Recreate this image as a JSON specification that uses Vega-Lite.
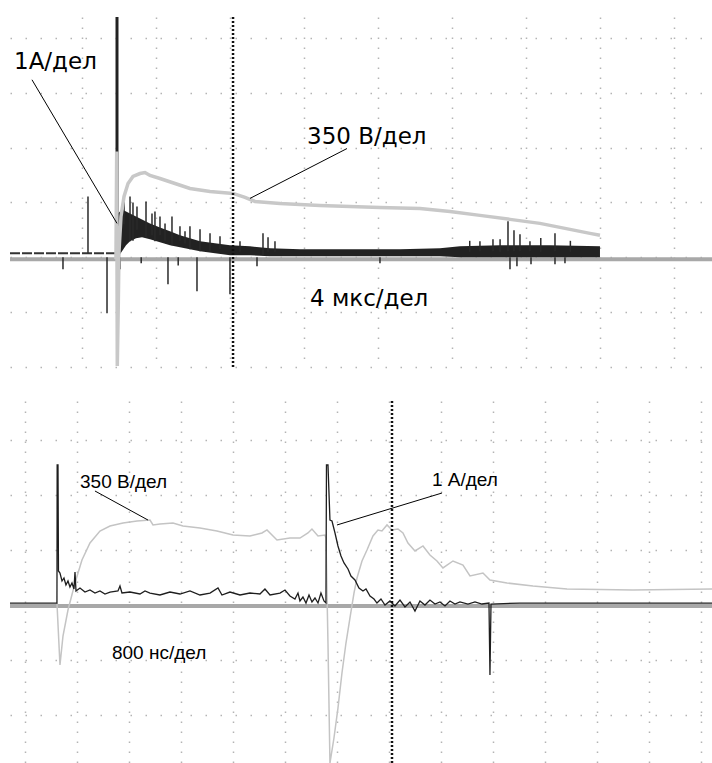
{
  "$schema": "https://vega.github.io/schema/vega-lite/v6.json",
  "background": "white",
  "padding": {"left": 6, "top": 15, "right": 0, "bottom": 0},
  "spacing": 25,
  "config": {
    "view": {"stroke": null},
    "axis": {"labels": false, "ticks": false, "domain": false, "grid": true, "gridColor": "#b4b4b4", "gridWidth": 1.5, "minExtent": 0, "maxExtent": 0, "title": null},
    "axisX": {"gridDash": [1.5, 8.5]},
    "axisY": {"gridDash": [1.5, 13.5]}
  },
  "datasets": {
    "topVolt": [
      {"t": 1.459, "v": -0.036}, {"t": 1.469, "v": 1.927}, {"t": 1.477, "v": -1.982}, {"t": 1.491, "v": -0.8},
      {"t": 1.5, "v": 0.109}, {"t": 1.527, "v": 0.745}, {"t": 1.568, "v": 1.109}, {"t": 1.622, "v": 1.345},
      {"t": 1.689, "v": 1.473}, {"t": 1.784, "v": 1.527}, {"t": 1.851, "v": 1.545}, {"t": 1.919, "v": 1.491},
      {"t": 2.054, "v": 1.436}, {"t": 2.257, "v": 1.345}, {"t": 2.459, "v": 1.255}, {"t": 2.73, "v": 1.2},
      {"t": 3.041, "v": 1.164}, {"t": 3.203, "v": 1.091}, {"t": 3.338, "v": 1.018}, {"t": 3.676, "v": 0.982},
      {"t": 4.216, "v": 0.945}, {"t": 4.622, "v": 0.927}, {"t": 5.027, "v": 0.909}, {"t": 5.568, "v": 0.891},
      {"t": 5.973, "v": 0.836}, {"t": 6.378, "v": 0.764}, {"t": 6.784, "v": 0.691}, {"t": 7.189, "v": 0.618},
      {"t": 7.595, "v": 0.509}, {"t": 7.865, "v": 0.436}, {"t": 8.0, "v": 0.4}
    ],
    "topBand": [
      {"t": 1.486, "hi": 0.8, "lo": 0.0}, {"t": 1.541, "hi": 0.873, "lo": 0.109}, {"t": 1.595, "hi": 0.836, "lo": 0.218},
      {"t": 1.649, "hi": 0.8, "lo": 0.291}, {"t": 1.73, "hi": 0.745, "lo": 0.345}, {"t": 1.811, "hi": 0.691, "lo": 0.364},
      {"t": 1.919, "hi": 0.618, "lo": 0.327}, {"t": 2.054, "hi": 0.545, "lo": 0.273}, {"t": 2.189, "hi": 0.473, "lo": 0.218},
      {"t": 2.324, "hi": 0.4, "lo": 0.182}, {"t": 2.459, "hi": 0.345, "lo": 0.145}, {"t": 2.595, "hi": 0.291, "lo": 0.109},
      {"t": 2.797, "hi": 0.255, "lo": 0.073}, {"t": 3.0, "hi": 0.218, "lo": 0.036}, {"t": 3.27, "hi": 0.2, "lo": 0.036},
      {"t": 3.541, "hi": 0.164, "lo": 0.018}, {"t": 3.946, "hi": 0.145, "lo": 0.018}, {"t": 4.622, "hi": 0.145, "lo": 0.018},
      {"t": 5.297, "hi": 0.145, "lo": 0.018}, {"t": 5.838, "hi": 0.164, "lo": 0.018}, {"t": 6.108, "hi": 0.2, "lo": 0.0},
      {"t": 6.649, "hi": 0.218, "lo": 0.0}, {"t": 7.324, "hi": 0.218, "lo": 0.0}, {"t": 8.0, "hi": 0.2, "lo": 0.0}
    ],
    "topSpikes": [
      {"t": 1.081, "v0": 0.073, "v1": 1.109}, {"t": 1.649, "v0": 0.291, "v1": 1.109}, {"t": 1.689, "v0": 0.3, "v1": 1.0},
      {"t": 1.865, "v0": 0.364, "v1": 1.018}, {"t": 1.986, "v0": 0.291, "v1": 0.836}, {"t": 2.216, "v0": 0.218, "v1": 0.745},
      {"t": 2.459, "v0": 0.145, "v1": 0.564}, {"t": 2.595, "v0": 0.109, "v1": 0.509}, {"t": 2.73, "v0": 0.109, "v1": 0.436},
      {"t": 3.446, "v0": 0.036, "v1": 0.436}, {"t": 6.378, "v0": 0.109, "v1": 0.291}, {"t": 6.554, "v0": 0.109, "v1": 0.327},
      {"t": 6.757, "v0": 0.109, "v1": 0.655}, {"t": 6.838, "v0": 0.109, "v1": 0.491}, {"t": 6.919, "v0": 0.109, "v1": 0.418},
      {"t": 7.054, "v0": 0.109, "v1": 0.291}, {"t": 7.392, "v0": 0.109, "v1": 0.436},
      {"t": 1.568, "v0": 0.6, "v1": 1.018}, {"t": 1.743, "v0": 0.5, "v1": 0.927}, {"t": 1.946, "v0": 0.4, "v1": 0.8},
      {"t": 2.054, "v0": 0.4, "v1": 0.745}, {"t": 2.122, "v0": 0.3, "v1": 0.618}, {"t": 2.324, "v0": 0.3, "v1": 0.564},
      {"t": 2.392, "v0": 0.25, "v1": 0.473}, {"t": 2.865, "v0": 0.15, "v1": 0.382}, {"t": 3.135, "v0": 0.1, "v1": 0.291},
      {"t": 3.514, "v0": 0.1, "v1": 0.364}, {"t": 3.608, "v0": 0.1, "v1": 0.291}, {"t": 6.24, "v0": 0.1, "v1": 0.3},
      {"t": 6.65, "v0": 0.1, "v1": 0.33}, {"t": 7.2, "v0": 0.1, "v1": 0.35}, {"t": 7.6, "v0": 0.1, "v1": 0.3},
      {"t": 0.743, "v0": 0, "v1": -0.218}, {"t": 1.338, "v0": 0, "v1": -1.018}, {"t": 1.514, "v0": 0, "v1": -0.218},
      {"t": 2.162, "v0": 0, "v1": -0.491}, {"t": 2.554, "v0": 0, "v1": -0.618}, {"t": 3.0, "v0": 0, "v1": -0.673},
      {"t": 3.365, "v0": 0, "v1": -0.164}, {"t": 6.784, "v0": 0, "v1": -0.218}, {"t": 6.878, "v0": 0, "v1": -0.164},
      {"t": 7.068, "v0": 0, "v1": -0.127}, {"t": 7.392, "v0": 0, "v1": -0.127}, {"t": 7.527, "v0": 0, "v1": -0.109},
      {"t": 5.027, "v0": 0, "v1": -0.109}, {"t": 1.8, "v0": 0, "v1": -0.11}, {"t": 2.3, "v0": 0, "v1": -0.15}
    ],
    "topPointers": [
      {"t0": 0.324, "v0": 3.236, "t1": 1.473, "v1": 0.618},
      {"t0": 4.581, "v0": 1.982, "t1": 3.27, "v1": 1.073}
    ],
    "topLabels": [
      {"t": 0.081, "v": 3.436, "label": "1A/дел"},
      {"t": 4.041, "v": 2.073, "label": "350 В/дел"},
      {"t": 4.081, "v": -0.891, "label": "4 мкс/дел"}
    ],
    "botCurrent": [
      {"t": -0.288, "v": 0.036}, {"t": 0.577, "v": 0.036}, {"t": 0.615, "v": 0.036}, {"t": 0.619, "v": 2.545},
      {"t": 0.635, "v": 2.545}, {"t": 0.644, "v": 0.618}, {"t": 0.673, "v": 0.582}, {"t": 0.712, "v": 0.436},
      {"t": 0.75, "v": 0.491}, {"t": 0.788, "v": 0.364}, {"t": 0.827, "v": 0.436}, {"t": 0.865, "v": 0.327},
      {"t": 0.904, "v": 0.4}, {"t": 0.942, "v": 0.291}, {"t": 0.962, "v": 0.6}, {"t": 0.981, "v": 0.255},
      {"t": 1.058, "v": 0.309}, {"t": 1.154, "v": 0.236}, {"t": 1.25, "v": 0.273}, {"t": 1.346, "v": 0.218},
      {"t": 1.442, "v": 0.255}, {"t": 1.538, "v": 0.2}, {"t": 1.635, "v": 0.236}, {"t": 1.788, "v": 0.255},
      {"t": 1.827, "v": 0.345}, {"t": 1.865, "v": 0.218}, {"t": 2.019, "v": 0.236}, {"t": 2.212, "v": 0.2},
      {"t": 2.308, "v": 0.255}, {"t": 2.404, "v": 0.218}, {"t": 2.596, "v": 0.182}, {"t": 2.788, "v": 0.236},
      {"t": 2.981, "v": 0.2}, {"t": 3.173, "v": 0.255}, {"t": 3.365, "v": 0.182}, {"t": 3.558, "v": 0.218},
      {"t": 3.712, "v": 0.309}, {"t": 3.788, "v": 0.182}, {"t": 3.942, "v": 0.236}, {"t": 4.135, "v": 0.182},
      {"t": 4.327, "v": 0.218}, {"t": 4.519, "v": 0.2}, {"t": 4.615, "v": 0.291}, {"t": 4.712, "v": 0.182},
      {"t": 4.904, "v": 0.218}, {"t": 5.0, "v": 0.273}, {"t": 5.096, "v": 0.164}, {"t": 5.192, "v": 0.109},
      {"t": 5.25, "v": 0.218}, {"t": 5.288, "v": 0.073}, {"t": 5.346, "v": 0.145}, {"t": 5.404, "v": 0.036},
      {"t": 5.462, "v": 0.182}, {"t": 5.519, "v": 0.055}, {"t": 5.577, "v": 0.127}, {"t": 5.635, "v": 0.036},
      {"t": 5.692, "v": 0.218}, {"t": 5.75, "v": 0.073}, {"t": 5.788, "v": 0.036}, {"t": 5.798, "v": 2.545},
      {"t": 5.827, "v": 2.545}, {"t": 5.865, "v": 1.545}, {"t": 5.904, "v": 1.527}, {"t": 5.962, "v": 1.309},
      {"t": 6.019, "v": 1.073}, {"t": 6.077, "v": 0.891}, {"t": 6.135, "v": 0.764}, {"t": 6.212, "v": 0.655},
      {"t": 6.269, "v": 0.527}, {"t": 6.346, "v": 0.455}, {"t": 6.423, "v": 0.309}, {"t": 6.5, "v": 0.255},
      {"t": 6.558, "v": 0.291}, {"t": 6.635, "v": 0.164}, {"t": 6.712, "v": 0.109}, {"t": 6.769, "v": 0.036},
      {"t": 6.846, "v": 0.109}, {"t": 6.923, "v": 0.0}, {"t": 7.019, "v": 0.073}, {"t": 7.115, "v": -0.018},
      {"t": 7.212, "v": 0.091}, {"t": 7.308, "v": -0.036}, {"t": 7.404, "v": 0.055}, {"t": 7.5, "v": -0.109},
      {"t": 7.596, "v": 0.073}, {"t": 7.692, "v": 0.0}, {"t": 7.788, "v": 0.091}, {"t": 7.885, "v": 0.018},
      {"t": 7.981, "v": 0.055}, {"t": 8.077, "v": -0.018}, {"t": 8.173, "v": 0.073}, {"t": 8.269, "v": 0.018},
      {"t": 8.365, "v": 0.055}, {"t": 8.519, "v": 0.018}, {"t": 8.654, "v": 0.055}, {"t": 8.788, "v": 0.018},
      {"t": 8.923, "v": 0.036}, {"t": 8.942, "v": -1.273}, {"t": 8.962, "v": 0.018}, {"t": 9.519, "v": 0.036},
      {"t": 13.212, "v": 0.036}
    ],
    "botVolt": [
      {"t": 0.615, "v": 0.036}, {"t": 0.673, "v": -1.091}, {"t": 0.731, "v": -0.564}, {"t": 0.827, "v": -0.091},
      {"t": 0.962, "v": 0.4}, {"t": 1.096, "v": 0.818}, {"t": 1.25, "v": 1.127}, {"t": 1.442, "v": 1.345},
      {"t": 1.635, "v": 1.436}, {"t": 1.885, "v": 1.491}, {"t": 2.154, "v": 1.527}, {"t": 2.404, "v": 1.545},
      {"t": 2.462, "v": 1.455}, {"t": 2.596, "v": 1.473}, {"t": 2.846, "v": 1.491}, {"t": 3.038, "v": 1.436},
      {"t": 3.365, "v": 1.4}, {"t": 3.692, "v": 1.345}, {"t": 4.0, "v": 1.273}, {"t": 4.327, "v": 1.255},
      {"t": 4.558, "v": 1.309}, {"t": 4.654, "v": 1.364}, {"t": 4.846, "v": 1.182}, {"t": 5.096, "v": 1.218},
      {"t": 5.288, "v": 1.218}, {"t": 5.442, "v": 1.309}, {"t": 5.519, "v": 1.382}, {"t": 5.635, "v": 1.255},
      {"t": 5.769, "v": 1.273}, {"t": 5.788, "v": 1.218}, {"t": 5.827, "v": -0.691}, {"t": 5.865, "v": -2.873},
      {"t": 5.942, "v": -2.418}, {"t": 6.019, "v": -1.873}, {"t": 6.096, "v": -1.236}, {"t": 6.173, "v": -0.691},
      {"t": 6.25, "v": -0.236}, {"t": 6.327, "v": 0.218}, {"t": 6.385, "v": 0.491}, {"t": 6.481, "v": 0.8},
      {"t": 6.577, "v": 1.0}, {"t": 6.692, "v": 1.255}, {"t": 6.788, "v": 1.364}, {"t": 6.865, "v": 1.345},
      {"t": 6.962, "v": 1.455}, {"t": 7.058, "v": 1.364}, {"t": 7.173, "v": 1.382}, {"t": 7.269, "v": 1.309},
      {"t": 7.365, "v": 1.127}, {"t": 7.5, "v": 0.982}, {"t": 7.654, "v": 1.073}, {"t": 7.788, "v": 0.909},
      {"t": 7.923, "v": 0.8}, {"t": 8.038, "v": 0.673}, {"t": 8.231, "v": 0.8}, {"t": 8.423, "v": 0.727},
      {"t": 8.558, "v": 0.527}, {"t": 8.808, "v": 0.582}, {"t": 8.942, "v": 0.455}, {"t": 9.269, "v": 0.4},
      {"t": 9.769, "v": 0.345}, {"t": 10.423, "v": 0.291}, {"t": 11.692, "v": 0.273}, {"t": 13.212, "v": 0.291}
    ],
    "botPointers": [
      {"t0": 1.346, "v0": 2.073, "t1": 2.365, "v1": 1.545},
      {"t0": 8.019, "v0": 2.036, "t1": 6.0, "v1": 1.455}
    ],
    "botLabels": [
      {"t": 1.058, "v": 2.127, "label": "350 В/дел"},
      {"t": 7.827, "v": 2.164, "label": "1 А/дел"},
      {"t": 1.673, "v": -0.982, "label": "800 нс/дел"}
    ]
  },
  "vconcat": [
    {
      "width": 702,
      "height": 350,
      "layer": [
        {
          "data": {"name": "topVolt"},
          "mark": {"type": "line", "color": "#c8c8c8", "strokeWidth": 4, "opacity": 0},
          "encoding": {
            "x": {"field": "t", "type": "quantitative", "scale": {"domain": [0.027, 9.514], "nice": false, "zero": false}, "axis": {"values": [1, 2, 3, 4, 5, 6, 7, 8, 9], "title": null}},
            "y": {"field": "v", "type": "quantitative", "scale": {"domain": [-2.0, 4.38], "nice": false, "zero": false}, "axis": {"values": [-2, -1, 0, 1, 2, 3, 4], "title": null}}
          }
        },
        {
          "data": {"values": [{"v": -0.036}]},
          "mark": {"type": "rule", "color": "#a8a8a8", "strokeWidth": 4},
          "encoding": {"y": {"field": "v", "type": "quantitative"}}
        },
        {
          "data": {"values": [{"t": 0.027, "v": 0.073}, {"t": 1.46, "v": 0.073}]},
          "mark": {"type": "line", "color": "#333333", "strokeWidth": 2, "strokeDash": [10, 2]},
          "encoding": {"x": {"field": "t", "type": "quantitative"}, "y": {"field": "v", "type": "quantitative"}}
        },
        {
          "data": {"name": "topBand"},
          "mark": {"type": "area", "color": "#222222", "opacity": 1},
          "encoding": {
            "x": {"field": "t", "type": "quantitative"},
            "y": {"field": "lo", "type": "quantitative"},
            "y2": {"field": "hi"}
          }
        },
        {
          "data": {"name": "topSpikes"},
          "mark": {"type": "rule", "color": "#2a2a2a", "strokeWidth": 1.5},
          "encoding": {
            "x": {"field": "t", "type": "quantitative"},
            "y": {"field": "v0", "type": "quantitative"},
            "y2": {"field": "v1"}
          }
        },
        {
          "data": {"values": [{"t": 1.473, "v0": 0, "v1": 4.38}]},
          "mark": {"type": "rule", "color": "#222222", "strokeWidth": 3},
          "encoding": {
            "x": {"field": "t", "type": "quantitative"},
            "y": {"field": "v0", "type": "quantitative"},
            "y2": {"field": "v1"}
          }
        },
        {
          "data": {"name": "topVolt"},
          "mark": {"type": "line", "color": "#c8c8c8", "strokeWidth": 3.5},
          "encoding": {"x": {"field": "t", "type": "quantitative"}, "y": {"field": "v", "type": "quantitative"}}
        },
        {
          "data": {"values": [{"t": 3.041}]},
          "mark": {"type": "rule", "color": "#111111", "strokeWidth": 2.5, "strokeDash": [2, 2]},
          "encoding": {"x": {"field": "t", "type": "quantitative"}}
        },
        {
          "data": {"name": "topPointers"},
          "mark": {"type": "rule", "color": "#000000", "strokeWidth": 1},
          "encoding": {
            "x": {"field": "t0", "type": "quantitative"},
            "y": {"field": "v0", "type": "quantitative"},
            "x2": {"field": "t1"},
            "y2": {"field": "v1"}
          }
        },
        {
          "data": {"name": "topLabels"},
          "mark": {"type": "text", "font": "DejaVu Sans", "fontSize": 23, "align": "left", "baseline": "alphabetic", "color": "#000000"},
          "encoding": {
            "x": {"field": "t", "type": "quantitative"},
            "y": {"field": "v", "type": "quantitative"},
            "text": {"field": "label"}
          }
        }
      ]
    },
    {
      "width": 702,
      "height": 365,
      "layer": [
        {
          "data": {"name": "botVolt"},
          "mark": {"type": "line", "color": "#c4c4c4", "strokeWidth": 1.5, "opacity": 0},
          "encoding": {
            "x": {"field": "t", "type": "quantitative", "scale": {"domain": [-0.288, 13.212], "nice": false, "zero": false}, "axis": {"values": [0, 1, 2, 3, 4, 5, 6, 7, 8, 9, 10, 11, 12, 13], "title": null}},
            "y": {"field": "v", "type": "quantitative", "scale": {"domain": [-2.927, 3.709], "nice": false, "zero": false}, "axis": {"values": [-2, -1, 0, 1, 2, 3], "title": null}}
          }
        },
        {
          "data": {"values": [{"v": -0.018}]},
          "mark": {"type": "rule", "color": "#a8a8a8", "strokeWidth": 4},
          "encoding": {"y": {"field": "v", "type": "quantitative"}}
        },
        {
          "data": {"name": "botVolt"},
          "mark": {"type": "line", "color": "#c4c4c4", "strokeWidth": 1.5},
          "encoding": {"x": {"field": "t", "type": "quantitative"}, "y": {"field": "v", "type": "quantitative"}}
        },
        {
          "data": {"name": "botCurrent"},
          "mark": {"type": "line", "color": "#1e1e1e", "strokeWidth": 1.3},
          "encoding": {"x": {"field": "t", "type": "quantitative"}, "y": {"field": "v", "type": "quantitative"}}
        },
        {
          "data": {"values": [{"t": 7.058}]},
          "mark": {"type": "rule", "color": "#111111", "strokeWidth": 2.5, "strokeDash": [2, 2]},
          "encoding": {"x": {"field": "t", "type": "quantitative"}}
        },
        {
          "data": {"name": "botPointers"},
          "mark": {"type": "rule", "color": "#000000", "strokeWidth": 1},
          "encoding": {
            "x": {"field": "t0", "type": "quantitative"},
            "y": {"field": "v0", "type": "quantitative"},
            "x2": {"field": "t1"},
            "y2": {"field": "v1"}
          }
        },
        {
          "data": {"name": "botLabels"},
          "mark": {"type": "text", "font": "Liberation Sans", "fontSize": 19, "align": "left", "baseline": "alphabetic", "color": "#000000"},
          "encoding": {
            "x": {"field": "t", "type": "quantitative"},
            "y": {"field": "v", "type": "quantitative"},
            "text": {"field": "label"}
          }
        }
      ]
    }
  ]
}
